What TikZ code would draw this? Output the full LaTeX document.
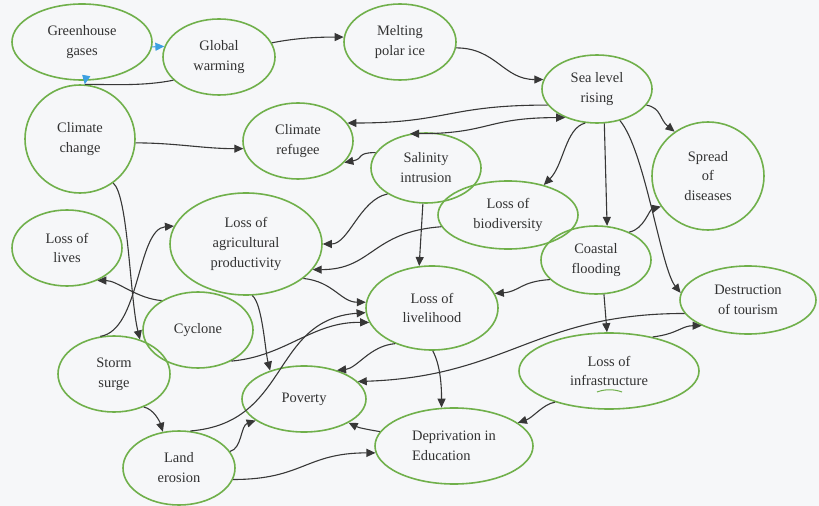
\documentclass[tikz,border=0pt]{standalone}
\usepackage{fontspec}
\setmainfont{Liberation Serif}
\usetikzlibrary{arrows.meta,calc,shapes.geometric}
\definecolor{bgc}{RGB}{246,247,249}
\definecolor{egreen}{RGB}{112,176,75}
\definecolor{edgec}{RGB}{55,55,55}
\definecolor{tblue}{RGB}{60,160,225}
\definecolor{txt}{RGB}{50,50,50}
\begin{document}
\begin{tikzpicture}[x=1bp,y=-1bp,
  ev/.style={ellipse, draw=egreen, line width=1.6bp, inner sep=0pt, text=txt, align=center,
    font=\fontsize{14.5}{20}\selectfont},
  link/.style={draw=edgec, line width=1.1bp, -{Triangle[length=9bp,width=8bp]}},
  linkboth/.style={draw=edgec, line width=1.1bp, {Triangle[length=9bp,width=8bp]}-{Triangle[length=9bp,width=8bp]}},
  plainlink/.style={draw=edgec, line width=1.1bp},
  bluelink/.style={draw=tblue, line width=1.1bp, -{Triangle[length=9bp,width=8bp,fill=tblue]}}]
\fill[bgc] (0,0) rectangle (819,506);
\useasboundingbox (0,0) rectangle (819,506);

% nodes
\node[ev, minimum width=140bp, minimum height=76bp] (gg) at (82,42) {Greenhouse\\gases};
\node[ev, minimum width=112bp, minimum height=76bp] (gw) at (219,57) {Global\\warming};
\node[ev, minimum width=112bp, minimum height=76bp] (mpi) at (400,42) {Melting\\polar ice};
\node[ev, minimum width=110bp, minimum height=68bp] (slr) at (597,89) {Sea level\\rising};
\node[ev, minimum width=110bp, minimum height=108bp] (cc) at (80,139) {Climate\\change};
\node[ev, minimum width=110bp, minimum height=76bp] (cr) at (298,141) {Climate\\refugee};
\node[ev, minimum width=110bp, minimum height=70bp] (si) at (426,168) {Salinity\\intrusion};
\node[ev, minimum width=112bp, minimum height=108bp] (sd) at (708,176) {Spread\\of\\diseases};
\node[ev, minimum width=140bp, minimum height=68bp] (lb) at (508,215) {Loss of\\biodiversity};
\node[ev, minimum width=110bp, minimum height=68bp] (cf) at (596,260) {Coastal\\flooding};
\node[ev, minimum width=136bp, minimum height=68bp] (dt) at (748,300) {Destruction\\of tourism};
\node[ev, minimum width=110bp, minimum height=76bp] (ll) at (67,248) {Loss of\\lives};
\node[ev, minimum width=152bp, minimum height=102bp] (lap) at (246,244) {Loss of\\agricultural\\productivity};
\node[ev, minimum width=110bp, minimum height=76bp] (cy) at (198,330) {Cyclone};
\node[ev, minimum width=132bp, minimum height=84bp] (lli) at (432,308) {Loss of\\livelihood};
\node[ev, minimum width=112bp, minimum height=76bp] (ss) at (114,374) {Storm\\surge};
\node[ev, minimum width=124bp, minimum height=66bp] (pov) at (304,399) {Poverty};
\node[ev, minimum width=180bp, minimum height=76bp] (li) at (609,371) {Loss of\\infrastructure};
\node[ev, minimum width=112bp, minimum height=74bp] (le) at (179,468) {Land\\erosion};
\node[ev, minimum width=158bp, minimum height=76bp, align=left] (de) at (454,446) {Deprivation in\\Education};

% small green mark under "infrastructure"
\draw[egreen, line width=1bp] ($(li)+(-12,21)$) .. controls +(8,-3) and +(-8,-3) .. ($(li)+(13,21)$);

% connectors
\draw[bluelink] (gg.-4) -- (gw.169);
\draw[plainlink] (gw.207) .. controls +(-30,6) and +(30,0) .. (cc.85);
\draw[bluelink] (gg.-85) -- (cc.85);
\draw[link] (gw.15) .. controls +(25,-5) and +(-25,0) .. (mpi.175);
\draw[link] (mpi.-6) .. controls +(40,0) and +(-40,0) .. (slr.170);
\draw[link] (cc.-4) .. controls +(40,0) and +(-40,0) .. (cr.188);
\draw[link] (slr.198) .. controls +(-100,0) and +(100,0) .. (cr.20);
\draw[linkboth] (si.115) .. controls +(80,0) and +(-80,0) .. (slr.222);
\draw[link] (si.163) .. controls +(-20,0) and +(20,-4) .. (cr.-25);
\draw[link] (slr.-18) .. controls +(15,3) and +(-15,-12) .. (sd.127);
\draw[link] (slr.251) .. controls +(-20,5) and +(20,-20) .. (lb.40);
\draw[link] (slr.-78) -- (cf.72);
\draw[link] (slr.-54) .. controls +(25,30) and +(-20,-25) .. (dt.174);
\draw[link] (cf.40) .. controls +(15,-3) and +(-12,3) .. (sd.213);
\draw[link] (si.265) -- (lli.107);
\draw[link] (si.214) .. controls +(-28,6) and +(26,0) .. (lap.0);
\draw[link] (lb.190) .. controls +(-70,5) and +(60,0) .. (lap.-21);
\draw[link] (lap.-31) .. controls +(30,3) and +(-25,0) .. (lli.175);
\draw[link] (cf.203) .. controls +(-30,2) and +(25,-2) .. (lli.13);
\draw[link] (cf.-77) -- (li.93);
\draw[link] (li.38) .. controls +(25,-3) and +(-20,0) .. (dt.209);
\draw[link] (dt.192) .. controls +(-150,0) and +(150,-5) .. (pov.18);
\draw[link] (lli.224) .. controls +(-25,2) and +(20,-2) .. (pov.41);
\draw[link] (lli.-89) .. controls +(8,15) and +(0,-20) .. (de.108);
\draw[link] (li.210) .. controls +(-12,2) and +(15,-5) .. (de.20);
\draw[link] (de.169) .. controls +(-12,-2) and +(10,5) .. (pov.-28);
\draw[link] (le.-12) .. controls +(70,0) and +(-70,0) .. (de.185);
\draw[link] (le.18) .. controls +(12,-3) and +(-15,5) .. (pov.204);
\draw[link] (le.73) .. controls +(100,-8) and +(-95,7) .. (lli.184);
\draw[link] (cy.-43) .. controls +(55,-5) and +(-57,-1) .. (lli.193);
\draw[link] (lap.-83) .. controls +(10,8) and +(-5,-20) .. (pov.140);
\draw[link] (cy.141) .. controls +(-25,-2) and +(20,0) .. (ll.-47);
\draw[link] (ss.110) .. controls +(40,-6) and +(-37,3) .. (lap.166);
\draw[link] (cc.-53) .. controls +(15,12) and +(-10,-40) .. (ss.53);
\draw[link] (ss.-48) .. controls +(10,2) and +(-3,-10) .. (le.114);
\end{tikzpicture}
\end{document}
